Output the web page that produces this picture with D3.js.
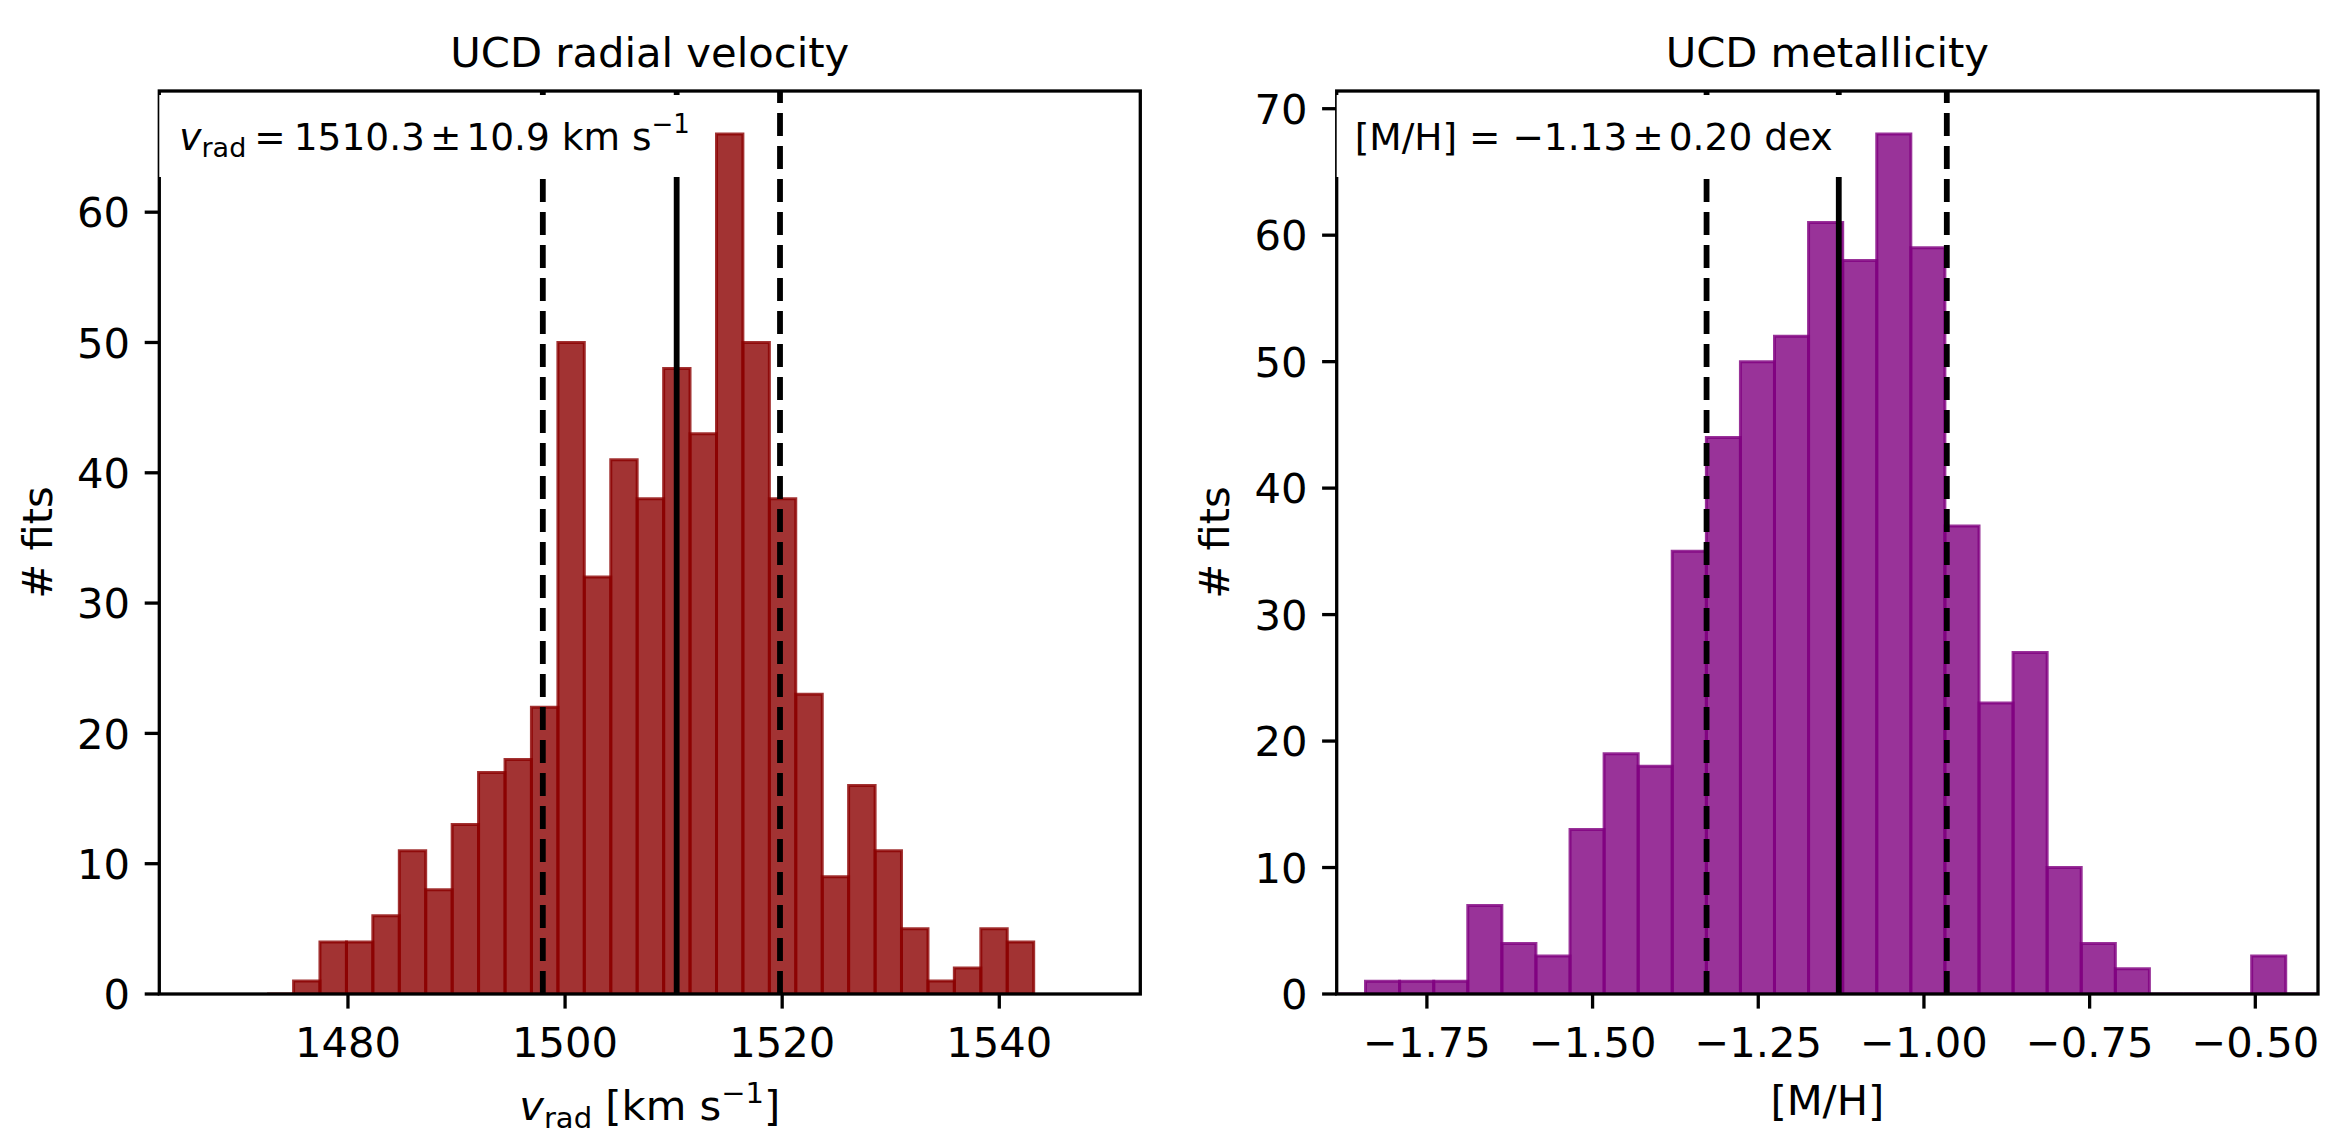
<!DOCTYPE html>
<html>
<head>
<meta charset="utf-8">
<script src="https://cdn.jsdelivr.net/npm/d3@7"></script>
<style>
    body { margin: 0; background: #fff; }
    svg { display: block; font-family: "DejaVu Sans", sans-serif; }
</style>
</head>
<body>
<div id="app"></div>
<script>
// histogram data
const vradEdges = [1472.55, 1474.99, 1477.42, 1479.86, 1482.29, 1484.73, 1487.16, 1489.60, 1492.03, 1494.47,
    1496.90, 1499.34, 1501.77, 1504.21, 1506.64, 1509.08, 1511.51, 1513.95, 1516.38, 1518.82,
    1521.25, 1523.69, 1526.12, 1528.56, 1530.99, 1533.43, 1535.86, 1538.30, 1540.73, 1543.17];
const vradCounts = [0, 1, 4, 4, 6, 11, 8, 13, 17, 18, 22, 50, 32, 41, 38, 48, 43, 66, 50, 38, 23, 9, 16, 11, 5, 1, 2, 5, 4];
const vradMarkers = [1497.95, 1510.28, 1519.80];   // lower, median, upper
const vradTicks = [1480, 1500, 1520, 1540];
const vradCountTicks = [0, 10, 20, 30, 40, 50, 60];

const mhEdges = [-1.8940, -1.8426, -1.7912, -1.7397, -1.6883, -1.6369, -1.5855, -1.5340, -1.4826, -1.4312,
    -1.3798, -1.3283, -1.2769, -1.2255, -1.1741, -1.1226, -1.0712, -1.0198, -0.9684, -0.9169,
    -0.8655, -0.8141, -0.7627, -0.7112, -0.6598, -0.6084, -0.5570, -0.5055, -0.4541, -0.4027];
const mhCounts = [0, 1, 1, 1, 7, 4, 3, 13, 19, 18, 35, 44, 50, 52, 61, 58, 68, 59, 37, 23, 27, 10, 4, 2, 0, 0, 0, 3, 0];
const mhMarkers = [-1.328, -1.1285, -0.9655];
const mhTicks = [-1.75, -1.50, -1.25, -1.00, -0.75, -0.50];
const mhCountTicks = [0, 10, 20, 30, 40, 50, 60, 70];

const W = 2337;
const H = 1140;
const fontSize = 41.7;
const boxFont = 37.5;
const tickLen = 14.6;
const spineW = 3.3;

const svg = d3.select("#app")
    .append("svg")
    .attr("width", W)
    .attr("height", H);

svg.append("rect")
    .attr("width", W)
    .attr("height", H)
    .attr("fill", "#fff");

function drawPanel(p) {
    const x = d3.scaleLinear().domain(p.xDomain).range([p.left, p.right]);
    const y = d3.scaleLinear().domain(p.yDomain).range([p.bottom, p.top]);
    const g = svg.append("g");

    g.append("clipPath")
        .attr("id", p.id + "-clip")
        .append("rect")
        .attr("x", p.left)
        .attr("y", p.top)
        .attr("width", p.right - p.left)
        .attr("height", p.bottom - p.top);

    const plot = g.append("g").attr("clip-path", "url(#" + p.id + "-clip)");

    //BARS (paths so that empty bins still show their edge)
    const bins = p.counts.map(function (c, i) {
        return { x0: p.edges[i], x1: p.edges[i + 1], count: c };
    });
    plot.selectAll("path.bar")
        .data(bins)
        .enter()
        .append("path")
        .attr("class", "bar")
        .attr("d", function (b) {
            const x0 = x(b.x0), x1 = x(b.x1), y0 = y(0), y1 = y(b.count);
            return "M" + x0 + "," + y0 + "L" + x0 + "," + y1 + "L" + x1 + "," + y1 + "L" + x1 + "," + y0 + "Z";
        })
        .style("fill", p.color)
        .style("fill-opacity", 0.8)
        .style("stroke", p.color)
        .style("stroke-opacity", 0.8)
        .style("stroke-width", 3)
        .style("stroke-linejoin", "miter");

    //MARKER LINES
    plot.selectAll("line.marker")
        .data(p.markers)
        .enter()
        .append("line")
        .attr("class", "marker")
        .attr("x1", function (d) { return x(d); })
        .attr("x2", function (d) { return x(d); })
        .attr("y1", p.bottom)
        .attr("y2", p.top)
        .style("stroke", "#000")
        .style("stroke-width", 5.8)
        .style("stroke-dasharray", function (d, i) { return i === 1 ? null : "23,10"; });

    //SPINES
    g.append("rect")
        .attr("x", p.left)
        .attr("y", p.top)
        .attr("width", p.right - p.left)
        .attr("height", p.bottom - p.top)
        .style("fill", "none")
        .style("stroke", "#000")
        .style("stroke-width", spineW);

    //X TICKS
    g.selectAll("line.xtick")
        .data(p.xTicks)
        .enter()
        .append("line")
        .attr("x1", function (d) { return x(d); })
        .attr("x2", function (d) { return x(d); })
        .attr("y1", p.bottom)
        .attr("y2", p.bottom + tickLen)
        .style("stroke", "#000")
        .style("stroke-width", spineW);
    g.selectAll("text.xtick")
        .data(p.xTicks)
        .enter()
        .append("text")
        .attr("x", function (d) { return x(d); })
        .attr("y", 1057)
        .attr("text-anchor", "middle")
        .style("font-size", fontSize + "px")
        .text(p.xFormat);

    //Y TICKS
    g.selectAll("line.ytick")
        .data(p.yTicks)
        .enter()
        .append("line")
        .attr("x1", p.left - tickLen)
        .attr("x2", p.left)
        .attr("y1", function (d) { return y(d); })
        .attr("y2", function (d) { return y(d); })
        .style("stroke", "#000")
        .style("stroke-width", spineW);
    g.selectAll("text.ytick")
        .data(p.yTicks)
        .enter()
        .append("text")
        .attr("x", p.left - 2 * tickLen)
        .attr("y", function (d) { return y(d) + 0.3645 * fontSize; })
        .attr("text-anchor", "end")
        .style("font-size", fontSize + "px")
        .text(function (d) { return d; });

    //TITLE & LABELS
    const cx = (p.left + p.right) / 2;
    g.append("text")
        .attr("x", cx)
        .attr("y", 66.7)
        .attr("text-anchor", "middle")
        .style("font-size", fontSize + "px")
        .text(p.title);

    g.append("text")
        .attr("transform", "translate(" + (p.left - 107.6) + "," + ((p.top + p.bottom) / 2) + ") rotate(-90)")
        .attr("text-anchor", "middle")
        .style("font-size", fontSize + "px")
        .text("# fits");

    const xl = g.append("text")
        .attr("x", cx)
        .attr("y", p.xLabelY)
        .attr("text-anchor", "middle")
        .style("font-size", fontSize + "px");
    p.xLabel(xl);

    //TEXT BOX (sits above the spines, like the original)
    g.append("rect")
        .attr("x", p.left)
        .attr("y", 95)
        .attr("width", p.boxRight - p.left)
        .attr("height", 82)
        .style("fill", "#fff");
    const bt = g.append("text")
        .attr("x", p.left + p.textPad)
        .attr("y", 149.5)
        .style("font-size", boxFont + "px");
    p.boxText(bt);
}

drawPanel({
    id: "vrad",
    left: 159.3, right: 1140.3, top: 91, bottom: 994,
    xDomain: [1462.62, 1552.99],
    yDomain: [0, 69.3],
    edges: vradEdges,
    counts: vradCounts,
    markers: vradMarkers,
    xTicks: vradTicks,
    yTicks: vradCountTicks,
    xFormat: function (d) { return d; },
    color: "#8b0000",
    title: "UCD radial velocity",
    xLabelY: 1119.5,
    xLabel: function (t) {
        t.append("tspan").style("font-style", "italic").text("v");
        t.append("tspan").attr("dy", 8).style("font-size", "29px").text("rad");
        t.append("tspan").attr("dy", -8).text("\u00a0[km s");
        t.append("tspan").attr("dy", -17).style("font-size", "29px").text("\u22121");
        t.append("tspan").attr("dy", 17).text("]");
    },
    boxRight: 711,
    textPad: 20,
    boxText: function (t) {
        t.append("tspan").style("font-style", "italic").text("v");
        t.append("tspan").attr("dy", 7).style("font-size", "27px").text("rad");
        t.append("tspan").attr("dy", -7).attr("dx", 8).text("=");
        t.append("tspan").attr("dx", 8).text("1510.3");
        t.append("tspan").attr("dx", 5).text("\u00b1");
        t.append("tspan").attr("dx", 5).text("10.9\u00a0km\u00a0s");
        t.append("tspan").attr("dy", -17).style("font-size", "26px").text("\u22121");
    }
});

drawPanel({
    id: "mh",
    left: 1336.7, right: 2318, top: 91, bottom: 994,
    xDomain: [-1.8861, -0.4054],
    yDomain: [0, 71.4],
    edges: mhEdges,
    counts: mhCounts,
    markers: mhMarkers,
    xTicks: mhTicks,
    yTicks: mhCountTicks,
    xFormat: d3.format(".2f"),
    color: "#800080",
    title: "UCD metallicity",
    xLabelY: 1114.5,
    xLabel: function (t) {
        t.text("[M/H]");
    },
    boxRight: 1857,
    textPad: 18,
    boxText: function (t) {
        t.append("tspan").text("[M/H] = \u22121.13");
        t.append("tspan").attr("dx", 5).text("\u00b1");
        t.append("tspan").attr("dx", 5).text("0.20 dex");
    }
});
</script>
</body>
</html>
